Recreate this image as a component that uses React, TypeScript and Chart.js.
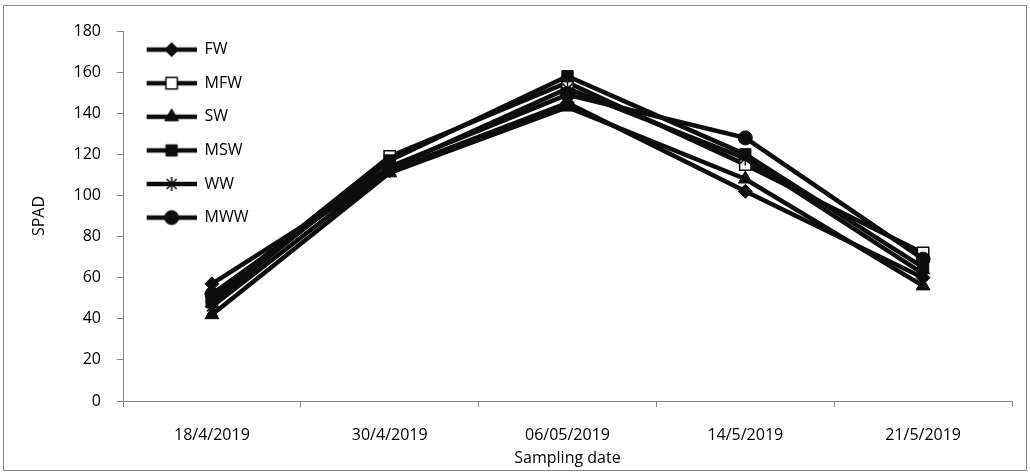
import React, { useEffect, useRef } from "react";
import { Chart, registerables } from "chart.js";
import { drawPoint } from "chart.js/helpers";

Chart.register(...registerables);

const categories = ["18/4/2019", "30/4/2019", "06/05/2019", "14/5/2019", "21/5/2019"];
const seriesNames = ["FW", "MFW", "SW", "MSW", "WW", "MWW"];
const FW = [57, 112, 145, 102, 60];
const MFW = [50, 119, 155, 115, 72];
const SW = [42, 111, 143, 108, 56];
const MSW = [48, 117, 158, 120, 65];
const WW = [46, 113, 152, 118, 62];
const MWW = [52, 114, 149, 128, 69];
const yTicks = [0, 20, 40, 60, 80, 100, 120, 140, 160, 180];

const seriesValues = [FW, MFW, SW, MSW, WW, MWW];
const pointStyles = ["rectRot", "rect", "triangle", "rect", "star", "circle"];
const pointFills = ["#0d0d0d", "#ffffff", "#0d0d0d", "#0d0d0d", "#0d0d0d", "#0d0d0d"];
const pointRadii = [7, 8, 8, 8, 7, 7];
const pointBorders = [1, 1.5, 1, 1, 1.5, 1];

const LINE = "#0d0d0d";
const LW = 4.5;
const FONT = "'Open Sans', sans-serif";
const FS = 16;

function legendImage(i: number) {
  const c = document.createElement("canvas");
  c.width = 56;
  c.height = 18;
  const ctx = c.getContext("2d")!;
  ctx.strokeStyle = LINE;
  ctx.lineWidth = LW;
  ctx.beginPath();
  ctx.moveTo(6, 9);
  ctx.lineTo(56, 9);
  ctx.stroke();
  ctx.fillStyle = pointFills[i];
  ctx.strokeStyle = LINE;
  ctx.lineWidth = pointBorders[i];
  drawPoint(ctx, { pointStyle: pointStyles[i], rotation: 0, radius: pointRadii[i], borderWidth: pointBorders[i] } as any, 31, 9);
  return c;
}

export default function App() {
  const ref = useRef<HTMLCanvasElement>(null);
  useEffect(() => {
    const canvas = ref.current!;
    const chart = new Chart(canvas, {
      type: "line",
      data: {
        labels: categories,
        datasets: seriesNames.map((name, i) => ({
          label: name,
          data: seriesValues[i],
          borderColor: LINE,
          borderWidth: LW,
          backgroundColor: pointFills[i],
          pointStyle: pointStyles[i] as any,
          pointRadius: pointRadii[i],
          pointBackgroundColor: pointFills[i],
          pointBorderColor: LINE,
          pointBorderWidth: pointBorders[i],
          tension: 0,
          fill: false,
          order: seriesNames.length - i,
        })),
      },
      options: {
        responsive: false,
        animation: false,
        layout: { padding: { left: 0, top: 31, right: 18, bottom: 0 } },
        plugins: {
          tooltip: { enabled: false },
          legend: {
            position: "chartArea",
            align: "start",
            title: { display: true, text: "", font: { size: 10, lineHeight: 1 }, padding: { top: 14, bottom: 0 } },
            labels: {
              usePointStyle: true,
              pointStyleWidth: 56,
              boxHeight: 18,
              padding: 17.6,
              color: "#000",
              font: { family: FONT, size: FS },
              generateLabels: () =>
                seriesNames.map((name, i) => ({
                  text: name,
                  fontColor: "#000",
                  pointStyle: legendImage(i) as any,
                  fillStyle: LINE,
                  strokeStyle: LINE,
                  lineWidth: 0,
                  datasetIndex: i,
                  hidden: false,
                })),
            },
          },
        },
        scales: {
          x: {
            offset: true,
            border: { color: "#868686", width: 1 },
            grid: { display: true, drawOnChartArea: false, drawTicks: true, tickLength: 6, color: "#868686", offset: true },
            ticks: { color: "#000", padding: 19, font: { family: FONT, size: FS }, maxRotation: 0 },
            title: { display: true, text: "Sampling date", color: "#000", font: { family: FONT, size: FS }, padding: 7 },
            afterFit: (s: any) => { s.height = 74; },
          },
          y: {
            min: 0,
            max: 180,
            afterBuildTicks: (s: any) => { s.ticks = yTicks.map((v) => ({ value: v })); },
            border: { color: "#868686", width: 1 },
            grid: { display: true, drawOnChartArea: false, drawTicks: true, tickLength: 6, color: "#868686" },
            ticks: { color: "#000", padding: 16, font: { family: FONT, size: FS } },
            title: { display: true, text: "SPAD", color: "#000", font: { family: FONT, size: FS }, padding: 30 },
            afterFit: (s: any) => { s.width = 123; },
          },
        },
      },
    });
    return () => chart.destroy();
  }, []);
  return (
    <div style={{ position: "absolute", left: 0, top: 0, width: 1030, height: 475, background: "#fff" }}>
      <div style={{ position: "absolute", left: 3, top: 5, width: 1022, height: 464, border: "1px solid #888" }} />
      <canvas ref={ref} width={1030} height={475} style={{ position: "absolute", left: 0, top: 0, width: 1030, height: 475 }} />
    </div>
  );
}
